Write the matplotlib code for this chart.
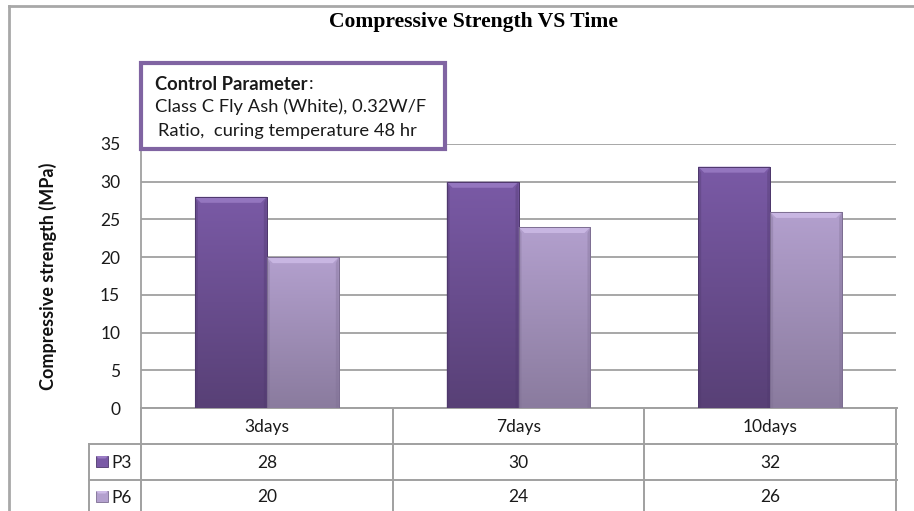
import numpy as np
import matplotlib
matplotlib.use("Agg")
import matplotlib.pyplot as plt
from matplotlib.patches import Rectangle, Polygon
from matplotlib.lines import Line2D
from matplotlib.colors import LinearSegmentedColormap

# Data
categories = ["3days", "7days", "10days"]
series_names = ["P3", "P6"]
p3_values = [28, 30, 32]
p6_values = [20, 24, 26]
y_ticks = [0, 5, 10, 15, 20, 25, 30, 35]

title = "Compressive Strength VS Time"
y_label = "Compressive strength (MPa)"

W, H = 914, 511
fig = plt.figure(figsize=(W / 100, H / 100), dpi=100)
plt.rcParams["font.family"] = ["Lato", "DejaVu Sans"]
FS = 12.5
BOX_FS = 13.2
TXT = "#1a1a1a"

# overlay in pixel coordinates for frame, table and annotation box
over = fig.add_axes([0, 0, 1, 1], zorder=0)
over.set_xlim(0, W)
over.set_ylim(H, 0)
over.axis("off")

# chart area frame
frame_col = "#A8A8A8"
over.add_line(Line2D([9, 9], [6, H + 5], color=frame_col, lw=2.0))
over.add_line(Line2D([9, W + 5], [6, 6], color=frame_col, lw=2.0))

# plot area (pixels)
px_l, px_r, px_t, px_b = 141, 896, 144, 408
ax = fig.add_axes([px_l / W, (H - px_b) / H, (px_r - px_l) / W, (px_b - px_t) / H], zorder=1)
ax.set_xlim(-0.5, len(categories) - 0.5)
ax.set_ylim(0, 35)
ax.patch.set_alpha(0)

grid_col = "#A0A0A0"
ax.set_yticks(y_ticks)
ax.set_yticklabels([str(t) for t in y_ticks], fontsize=FS, color=TXT)
ax.tick_params(axis="y", length=0, pad=15)
ax.set_xticks([])
ax.yaxis.grid(True, color=grid_col, lw=1.3)
ax.set_axisbelow(True)
for s in ["top", "right", "bottom"]:
    ax.spines[s].set_visible(False)
ax.spines["left"].set_color(grid_col)
ax.spines["left"].set_linewidth(1.3)
ax.set_ylabel(y_label, fontsize=13, fontweight="bold", color="#111111")
ax.yaxis.set_label_coords(-0.111, 0.5)

# bars
bw = 0.286
x = np.arange(len(categories))
bars_p3 = ax.bar(x - bw / 2, p3_values, bw, color="#674B8C", edgecolor="#4A3566", lw=0.6, zorder=2)
bars_p6 = ax.bar(x + bw / 2, p6_values, bw, color="#9C8AB5", edgecolor="#7E6E95", lw=0.6, zorder=2)

styles = {
    "P3": dict(top="#7A5AA6", bot="#584076", bevel="#9A7CC4", side="#4E386C"),
    "P6": dict(top="#B3A0CE", bot="#8A7B9E", bevel="#CDBBE6", side="#7D6E92"),
}

# pixel -> data unit sizes
ux = (len(categories)) / (px_r - px_l)
uy = 35 / (px_b - px_t)


def shade(bar, st):
    x0, y0 = bar.get_x(), bar.get_y()
    w, h = bar.get_width(), bar.get_height()
    cmap = LinearSegmentedColormap.from_list("g", [st["bot"], st["top"]])
    grad = np.linspace(0, 1, 256).reshape(-1, 1)
    im = ax.imshow(grad, cmap=cmap, extent=(x0, x0 + w, y0, y0 + h), origin="lower",
                   aspect="auto", zorder=3, interpolation="bicubic")
    im.set_clip_path(bar)
    bx, by = 6 * ux, 6 * uy
    top = y0 + h
    ax.add_patch(Polygon([(x0, top), (x0 + w, top), (x0 + w - bx, top - by), (x0 + bx, top - by)],
                         closed=True, facecolor=st["bevel"], edgecolor="none", alpha=0.85, zorder=4))
    sx = 3 * ux
    ax.add_patch(Polygon([(x0, top), (x0 + sx, top - by), (x0 + sx, y0), (x0, y0)],
                         closed=True, facecolor=st["side"], edgecolor="none", alpha=0.35, zorder=4))
    ax.add_patch(Polygon([(x0 + w, top), (x0 + w - sx, top - by), (x0 + w - sx, y0), (x0 + w, y0)],
                         closed=True, facecolor=st["side"], edgecolor="none", alpha=0.35, zorder=4))
    ax.add_patch(Rectangle((x0, y0), w, h, fill=False, edgecolor=st["side"], lw=0.7, zorder=5))


for b in bars_p3:
    shade(b, styles["P3"])
for b in bars_p6:
    shade(b, styles["P6"])
ax.set_xlim(-0.5, len(categories) - 0.5)
ax.set_ylim(0, 35)

# title
over.text(473, 22, title, ha="center", va="center", fontsize=15.6, fontweight="bold",
          family="Liberation Serif")

# data table below the plot area
row_y = [px_b, 444, 480, H + 5]
col_x = [px_l + (px_r - px_l) * i / len(categories) for i in range(len(categories) + 1)]
leg_l = 89
tcol = grid_col
tlw = 1.4
over.add_line(Line2D([px_l, px_r + 1], [px_b, px_b], color=tcol, lw=tlw))
for yy in row_y[1:3]:
    over.add_line(Line2D([leg_l, px_r + 1], [yy, yy], color=tcol, lw=tlw))
for cx in col_x:
    over.add_line(Line2D([cx, cx], [px_b, H + 5], color=tcol, lw=tlw))
over.add_line(Line2D([leg_l, leg_l], [row_y[1], H + 5], color=tcol, lw=tlw))

for i, c in enumerate(categories):
    cx = (col_x[i] + col_x[i + 1]) / 2
    over.text(cx, (row_y[0] + row_y[1]) / 2 + 1, c, ha="center", va="center", fontsize=FS, color=TXT)
    over.text(cx, (row_y[1] + row_y[2]) / 2 + 1, str(p3_values[i]), ha="center", va="center",
              fontsize=FS, color=TXT)
    over.text(cx, 497, str(p6_values[i]), ha="center", va="center", fontsize=FS, color=TXT)

# legend keys inside the table
for name, yc in zip(series_names, [(row_y[1] + row_y[2]) / 2, 497]):
    st = styles[name]
    over.add_patch(Rectangle((96, yc - 6), 12, 11, facecolor=st["top"], edgecolor=st["side"], lw=0.6, zorder=3))
    over.add_patch(Polygon([(96, yc - 6), (108, yc - 6), (105.5, yc - 3.5), (98.5, yc - 3.5)],
                           facecolor=st["bevel"], edgecolor="none", zorder=4))
    over.text(111, yc + 1, name, ha="left", va="center", fontsize=FS, color=TXT)

# annotation box with the control parameters
box_ax = fig.add_axes([0, 0, 1, 1], zorder=5)
box_ax.set_xlim(0, W)
box_ax.set_ylim(H, 0)
box_ax.axis("off")
box_ax.patch.set_alpha(0)
box_ax.add_patch(Rectangle((141, 63), 304, 86, facecolor="white", edgecolor="#8064A2", lw=3))
head = box_ax.text(155, 84, "Control Parameter", ha="left", va="center", fontsize=BOX_FS,
                   fontweight="bold", color=TXT)
fig.canvas.draw()
hb = head.get_window_extent().transformed(box_ax.transData.inverted())
box_ax.text(max(hb.x0, hb.x1) + 1, 84, ":", ha="left", va="center", fontsize=BOX_FS, color=TXT)
box_ax.text(155, 107, "Class C Fly Ash (White), 0.32W/F", ha="left", va="center", fontsize=BOX_FS,
            color=TXT)
box_ax.text(158, 131, "Ratio,  curing temperature 48 hr", ha="left", va="center", fontsize=BOX_FS,
            color=TXT)

fig.savefig("out.png", dpi=100)
